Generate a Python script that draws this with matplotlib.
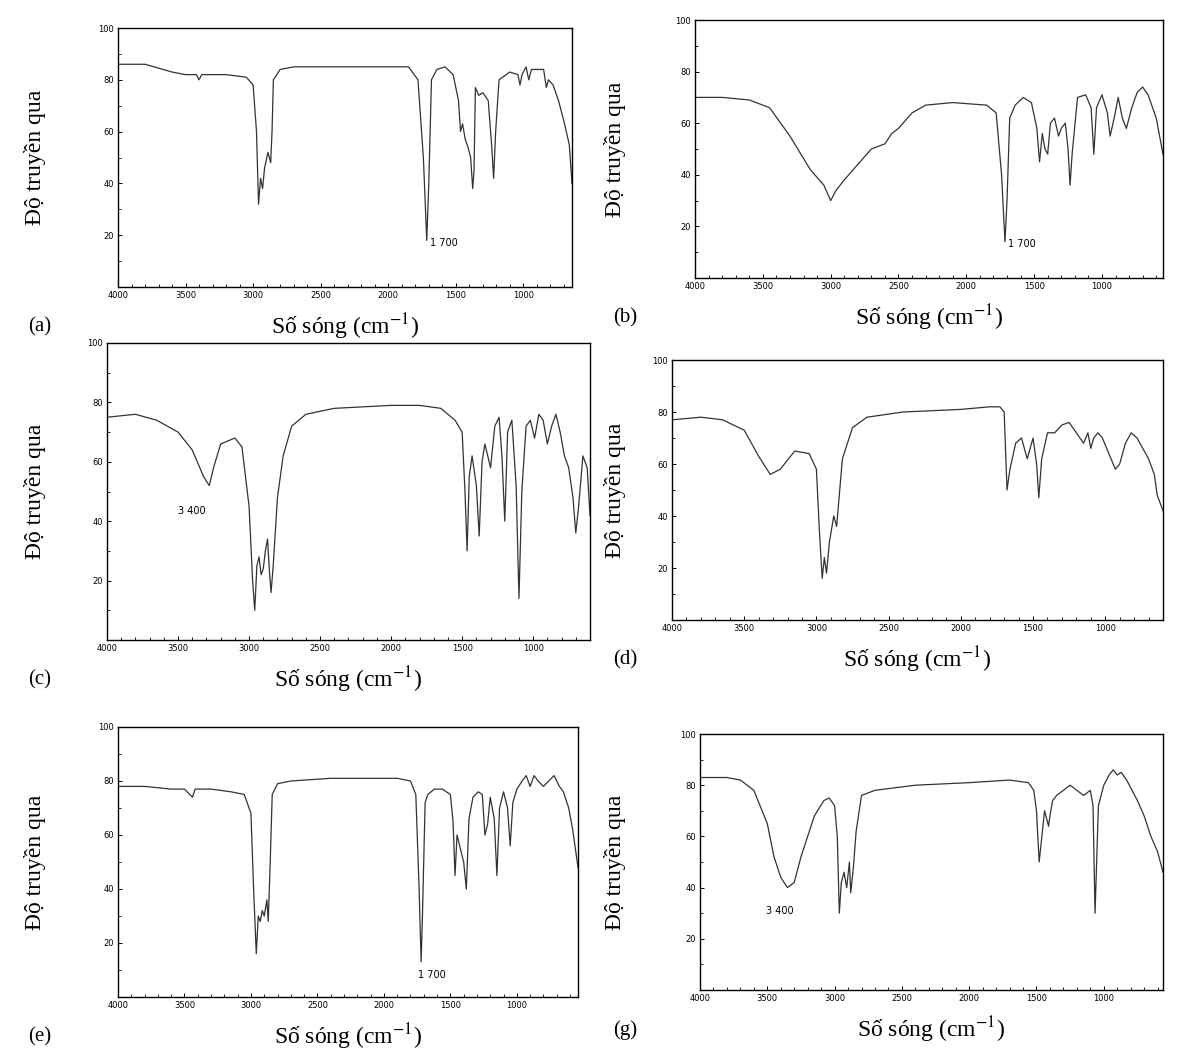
import matplotlib
matplotlib.use("Agg")
import matplotlib.pyplot as plt
from matplotlib.ticker import MultipleLocator

plt.rcParams["mathtext.fontset"] = "stix"

# spectrum key points: wavenumber (cm-1), transmittance (%)
wn_a = [4000, 3800, 3600, 3500, 3420, 3400, 3380, 3200, 3050, 3000, 2975, 2960, 2945, 2930, 2915, 2890, 2870, 2860, 2850, 2800, 2700, 2300, 1850, 1780, 1740, 1715, 1700, 1680, 1640, 1580, 1520, 1480, 1465, 1450, 1430, 1410, 1390, 1375, 1365, 1355, 1330, 1300, 1260, 1235, 1220, 1205, 1180, 1100, 1040, 1025, 1010, 980, 960, 940, 900, 850, 830, 815, 780, 740, 700, 660, 640]
tr_a = [86, 86, 83, 82, 82, 80, 82, 82, 81, 78, 60, 32, 42, 38, 46, 52, 48, 60, 80, 84, 85, 85, 85, 80, 50, 18, 40, 80, 84, 85, 82, 72, 60, 63, 57, 54, 50, 38, 45, 77, 74, 75, 72, 55, 42, 60, 80, 83, 82, 78, 82, 85, 80, 84, 84, 84, 77, 80, 78, 72, 64, 55, 40]

wn_b = [4000, 3800, 3600, 3450, 3300, 3150, 3050, 3000, 2960, 2900, 2800, 2700, 2600, 2550, 2500, 2400, 2300, 2100, 1850, 1780, 1740, 1715, 1700, 1680, 1640, 1580, 1520, 1480, 1460, 1440, 1420, 1400, 1380, 1350, 1320, 1300, 1270, 1250, 1235, 1220, 1180, 1120, 1080, 1060, 1040, 1000, 960, 940, 910, 880, 850, 820, 780, 740, 700, 660, 600, 550]
tr_b = [70, 70, 69, 66, 55, 42, 36, 30, 34, 38, 44, 50, 52, 56, 58, 64, 67, 68, 67, 64, 40, 14, 30, 62, 67, 70, 68, 58, 45, 56, 50, 48, 60, 62, 55, 58, 60, 50, 36, 48, 70, 71, 66, 48, 66, 71, 64, 55, 62, 70, 62, 58, 66, 72, 74, 71, 62, 48]

wn_c = [4000, 3800, 3650, 3500, 3400, 3320, 3280, 3250, 3200, 3100, 3050, 3000, 2975, 2960, 2945, 2930, 2915, 2900, 2885, 2870, 2855, 2845, 2830, 2800, 2760, 2700, 2600, 2400, 2000, 1800, 1650, 1600, 1550, 1500, 1480, 1465, 1450, 1430, 1400, 1380, 1360, 1340, 1300, 1270, 1240, 1220, 1200, 1180, 1150, 1120, 1100, 1080, 1050, 1020, 990, 960, 930, 900, 870, 840, 810, 780, 750, 720, 700, 680, 650, 620, 600]
tr_c = [75, 76, 74, 70, 64, 55, 52, 58, 66, 68, 65, 45, 20, 10, 25, 28, 22, 24, 30, 34, 22, 16, 25, 48, 62, 72, 76, 78, 79, 79, 78, 76, 74, 70, 50, 30, 55, 62, 52, 35, 60, 66, 58, 72, 75, 62, 40, 70, 74, 52, 14, 50, 72, 74, 68, 76, 74, 66, 72, 76, 70, 62, 58, 48, 36, 45, 62, 58, 42]

wn_d = [4000, 3800, 3650, 3500, 3400, 3320, 3250, 3150, 3050, 3000, 2980, 2960, 2945, 2930, 2910, 2880, 2860, 2820, 2750, 2650, 2400, 2000, 1800, 1730, 1700, 1680, 1660, 1620, 1580, 1540, 1500, 1475, 1460, 1440, 1400, 1350, 1300, 1250, 1200, 1150, 1120, 1100, 1080, 1050, 1020, 990, 960, 930, 900, 860, 820, 780, 740, 700, 660, 640, 600]
tr_d = [77, 78, 77, 73, 63, 56, 58, 65, 64, 58, 35, 16, 24, 18, 30, 40, 36, 62, 74, 78, 80, 81, 82, 82, 80, 50, 58, 68, 70, 62, 70, 60, 47, 62, 72, 72, 75, 76, 72, 68, 72, 66, 70, 72, 70, 66, 62, 58, 60, 68, 72, 70, 66, 62, 56, 48, 42]

wn_e = [4000, 3800, 3600, 3500, 3460, 3440, 3420, 3300, 3150, 3050, 3000, 2980, 2960, 2945, 2930, 2915, 2900, 2880, 2870, 2855, 2840, 2800, 2700, 2400, 1900, 1800, 1760, 1735, 1720, 1710, 1690, 1670, 1620, 1560, 1500, 1480, 1465, 1450, 1430, 1400, 1380, 1360, 1330, 1290, 1260, 1240, 1220, 1200, 1170, 1150, 1130, 1100, 1070, 1050, 1030, 1000, 960, 930, 900, 870, 840, 800, 760, 720, 680, 650, 610, 580, 540]
tr_e = [78, 78, 77, 77, 75, 74, 77, 77, 76, 75, 68, 40, 16, 30, 28, 32, 30, 36, 28, 50, 75, 79, 80, 81, 81, 80, 75, 40, 13, 30, 72, 75, 77, 77, 75, 65, 45, 60, 56, 50, 40, 66, 74, 76, 75, 60, 64, 74, 66, 45, 70, 76, 70, 56, 72, 77, 80, 82, 78, 82, 80, 78, 80, 82, 78, 76, 70, 62, 48]

wn_g = [4000, 3800, 3700, 3600, 3500, 3450, 3400, 3350, 3300, 3250, 3150, 3080, 3040, 3000, 2980, 2965, 2950, 2930, 2910, 2890, 2880, 2860, 2840, 2800, 2700, 2400, 2000, 1700, 1560, 1520, 1500, 1480, 1460, 1440, 1410, 1400, 1380, 1350, 1300, 1250, 1200, 1150, 1100, 1080, 1065, 1050, 1040, 1000, 960, 930, 900, 870, 830, 790, 750, 700, 650, 600, 560]
tr_g = [83, 83, 82, 78, 65, 52, 44, 40, 42, 52, 68, 74, 75, 72, 60, 30, 42, 46, 40, 50, 38, 48, 62, 76, 78, 80, 81, 82, 81, 78, 70, 50, 60, 70, 64, 68, 74, 76, 78, 80, 78, 76, 78, 72, 30, 55, 72, 80, 84, 86, 84, 85, 82, 78, 74, 68, 60, 54, 46]

spectra = [(wn_a, tr_a), (wn_b, tr_b), (wn_c, tr_c), (wn_d, tr_d), (wn_e, tr_e), (wn_g, tr_g)]
panel_letters = ["(a)", "(b)", "(c)", "(d)", "(e)", "(g)"]
x_right = [640, 550, 600, 600, 540, 560]
peak_notes = [("1 700", 1690, 19), ("1 700", 1690, 15), ("3 400", 3400, 45),
              None, ("1 700", 1740, 10), ("3 400", 3410, 33)]

# axes boxes in pixels: left, top, right, bottom
boxes = [(118, 28, 572, 287), (695, 20, 1163, 278),
         (107, 343, 590, 640), (672, 360, 1163, 620),
         (118, 727, 578, 997), (700, 734, 1163, 990)]

W, H = 1196, 1057
fig = plt.figure(figsize=(W / 100, H / 100), dpi=100)
serif = "Liberation Serif"

for i, (wn, tr) in enumerate(spectra):
    l, t, r, b = boxes[i]
    ax = fig.add_axes([l / W, 1 - b / H, (r - l) / W, (b - t) / H])
    ax.plot(wn, tr, color="#333333", linewidth=0.9)
    ax.set_xlim(4000, x_right[i])
    ax.set_ylim(0, 100)
    ax.xaxis.set_major_locator(MultipleLocator(500))
    ax.xaxis.set_minor_locator(MultipleLocator(100))
    ax.yaxis.set_major_locator(MultipleLocator(20))
    ax.yaxis.set_minor_locator(MultipleLocator(10))
    ax.tick_params(labelsize=6, direction="in", length=3, width=0.7, pad=3)
    ax.tick_params(which="minor", direction="in", length=2, width=0.6)
    ax.set_yticks([20, 40, 60, 80, 100])
    for s in ax.spines.values():
        s.set_linewidth(1.0)
    if peak_notes[i]:
        txt, px, py = peak_notes[i]
        ax.text(px, py, txt, fontsize=7, ha="left" if "700" in txt else "center", va="top")

    left_col = i % 2 == 0
    ylab_x = 35 if left_col else 615
    fig.text(ylab_x / W, 1 - (t + b) / 2 / H, "Độ truyền qua", rotation=90,
             ha="center", va="center", fontsize=17, family=serif)
    fig.text((l + r) / 2 / W, 1 - (b + 40) / H, "Số sóng (cm$^{-1}$)",
             ha="center", va="center", fontsize=17, family=serif)
    fig.text((40 if left_col else 625) / W, 1 - (b + 40) / H, panel_letters[i],
             ha="center", va="center", fontsize=15, family=serif)

fig.savefig("out.png", dpi=100, facecolor="white")
